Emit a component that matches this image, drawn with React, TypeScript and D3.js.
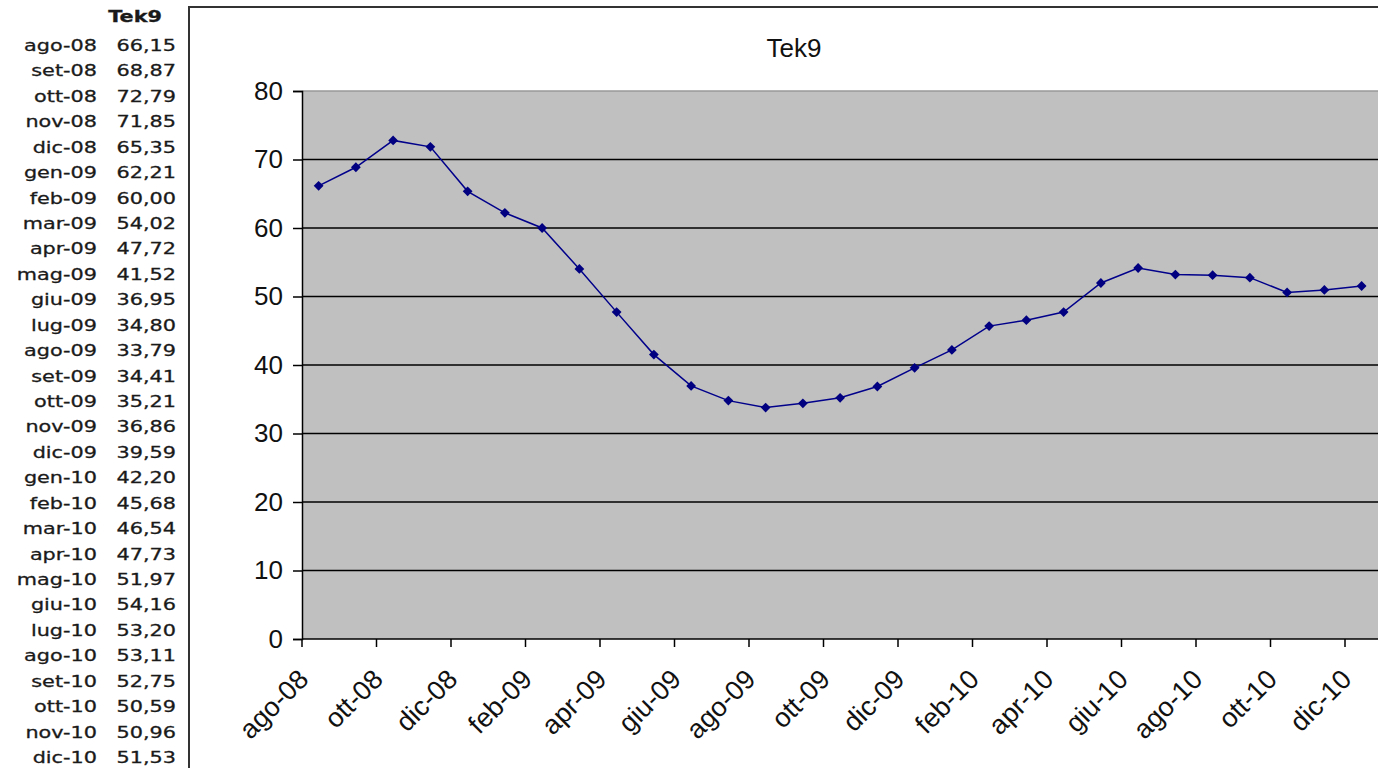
import React, {useEffect, useRef} from 'react';
import * as d3 from 'd3';

const months = ['ago-08','set-08','ott-08','nov-08','dic-08','gen-09','feb-09','mar-09','apr-09','mag-09','giu-09','lug-09','ago-09','set-09','ott-09','nov-09','dic-09','gen-10','feb-10','mar-10','apr-10','mag-10','giu-10','lug-10','ago-10','set-10','ott-10','nov-10','dic-10'];
const values = [66.15,68.87,72.79,71.85,65.35,62.21,60.00,54.02,47.72,41.52,36.95,34.80,33.79,34.41,35.21,36.86,39.59,42.20,45.68,46.54,47.73,51.97,54.16,53.20,53.11,52.75,50.59,50.96,51.53];
const yTicks = [0,10,20,30,40,50,60,70,80];
const seriesName = 'Tek9';

const App: React.FC = () => {
    const svgRef = useRef<SVGSVGElement | null>(null);

    useEffect(() => {
        document.body.style.margin = '0';
        const width = 1378;
        const height = 768;
        const svg = d3.select(svgRef.current).attr('width', width).attr('height', height);
        svg.selectAll('*').remove();

        svg.append('rect').attr('width', width).attr('height', height).attr('fill', '#fff');

        // data table on the left
        const rowY = d3.scalePoint<string>().domain(months).range([45, 757]);
        const sx = 1.3;
        const tbl = svg.append('g').style('font-family', '"DejaVu Sans", Verdana, sans-serif').style('font-size', '16px').attr('fill', '#1a1a1a')
            .attr('stroke', '#1a1a1a').attr('stroke-width', 0.3);
        tbl.append('text').attr('transform', `translate(162,22) scale(${sx},1)`)
            .attr('text-anchor', 'end').style('font-weight', 'bold').text(seriesName);
        months.forEach((m, i) => {
            const yy = rowY(m)! + 6;
            tbl.append('text').attr('transform', `translate(97,${yy}) scale(${sx},1)`).attr('text-anchor', 'end').text(m);
            tbl.append('text').attr('transform', `translate(176,${yy}) scale(${sx},1)`).attr('text-anchor', 'end')
                .text(values[i].toFixed(2).replace('.', ','));
        });

        // chart frame
        svg.append('rect').attr('x', 189).attr('y', 7).attr('width', 1300).attr('height', 900)
            .attr('fill', '#fff').attr('stroke', '#333').attr('stroke-width', 2);

        const left = 302, top = 91, bottom = 639;
        const bw = 37.25;
        const x = d3.scaleBand<string>().domain(months).range([left, left + bw * months.length]);
        const y = d3.scaleLinear().domain([0, 80]).range([bottom, top]);

        svg.append('rect').attr('x', left).attr('y', top).attr('width', bw * months.length).attr('height', bottom - top)
            .attr('fill', '#c0c0c0');
        svg.append('line').attr('x1', left).attr('x2', width).attr('y1', top).attr('y2', top)
            .attr('stroke', '#999').attr('stroke-width', 1.5);

        // gridlines
        svg.append('g').selectAll('line').data(yTicks.filter(t => t > 0 && t < 80)).enter().append('line')
            .attr('x1', left).attr('x2', width).attr('y1', d => y(d)).attr('y2', d => y(d))
            .attr('stroke', '#000').attr('stroke-width', 1.5);

        const font = 'Arial, "Liberation Sans", sans-serif';

        // y axis
        const yAxis = d3.axisLeft(y).tickValues(yTicks).tickSize(9).tickPadding(10).tickFormat(d3.format('d'));
        const ya = svg.append('g').attr('transform', `translate(${left},0)`).call(yAxis);
        ya.select('.domain').attr('stroke', '#000').attr('stroke-width', 1.5);
        ya.selectAll('line').attr('stroke', '#000').attr('stroke-width', 1.5);
        ya.selectAll('text').style('font-family', font).style('font-size', '26px').attr('fill', '#111');

        // x axis
        const tickMonths = months.filter((_, i) => i % 2 === 0);
        const xg = svg.append('g');
        xg.append('line').attr('x1', left).attr('x2', width).attr('y1', bottom).attr('y2', bottom)
            .attr('stroke', '#000').attr('stroke-width', 1.5);
        xg.selectAll('line.tk').data(tickMonths).enter().append('line').attr('class', 'tk')
            .attr('x1', d => x(d)!).attr('x2', d => x(d)!).attr('y1', bottom).attr('y2', bottom + 8)
            .attr('stroke', '#000').attr('stroke-width', 1.5);
        xg.selectAll('text').data(tickMonths).enter().append('text')
            .attr('transform', d => `translate(${x(d)! + 8},${bottom + 42}) rotate(-45)`)
            .attr('text-anchor', 'end')
            .style('font-family', font).style('font-size', '27px').attr('fill', '#111')
            .text(d => d);

        // title
        svg.append('text').attr('x', 794).attr('y', 57).attr('text-anchor', 'middle')
            .style('font-family', font).style('font-size', '26px').attr('fill', '#111')
            .text(seriesName);

        // line and markers
        const pts = months.map((m, i) => [x(m)! + x.bandwidth() / 2 - 2, y(values[i])] as [number, number]);
        svg.append('path').attr('d', d3.line()(pts)).attr('fill', 'none').attr('stroke', '#00008b').attr('stroke-width', 1.5);
        svg.append('g').selectAll('path').data(pts).enter().append('path')
            .attr('transform', d => `translate(${d[0]},${d[1]}) rotate(45)`)
            .attr('d', d3.symbol().type(d3.symbolSquare).size(48)())
            .attr('fill', '#000080');
    }, []);

    return <svg ref={svgRef}></svg>;
};

export default App;
